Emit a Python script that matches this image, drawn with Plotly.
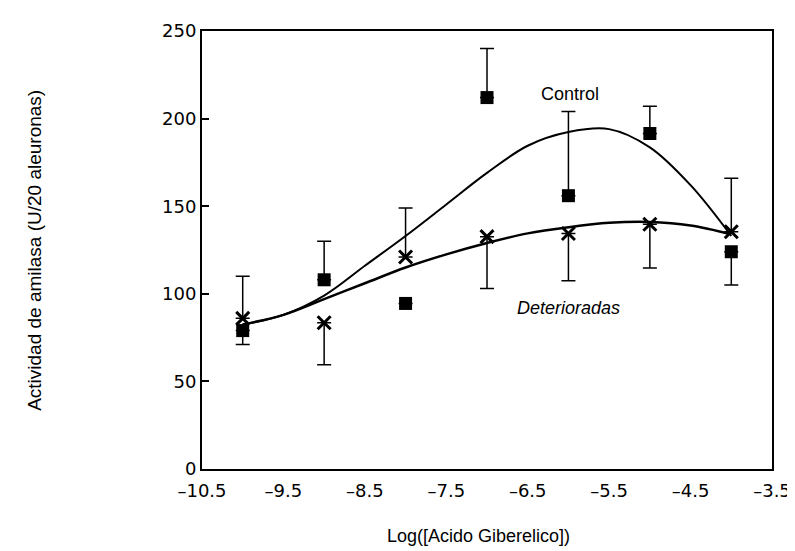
import plotly.graph_objects as go

# Measured points
x_vals = [-10, -9, -8, -7, -6, -5, -4]
control = [79, 108, 94.5, 212, 156, 191.5, 124]
control_err_plus = [0, 22, 0, 28, 48, 15.5, 0]
control_err_minus = [8, 0, 0, 0, 0, 0, 19]
deter = [86, 83.5, 121, 132.6, 134.4, 139.7, 135.4]
deter_err_plus = [24, 0, 28, 0, 0, 0, 30.5]
deter_err_minus = [0, 24, 0, 29.6, 27, 25, 0]

# Fitted curves
curve_x = [-10, -9.5, -9, -8.5, -8, -7.5, -7, -6.5, -6, -5.5, -5, -4.5, -4]
control_curve = [82.5, 88, 99, 116, 133, 151, 169, 184.5, 192.3, 194, 183.6, 162, 133]
deter_curve = [82.5, 88, 97, 106, 115, 122.5, 129, 134.5, 138, 140.5, 141, 139, 134]

x_ticks = [-10.5, -9.5, -8.5, -7.5, -6.5, -5.5, -4.5, -3.5]
y_ticks = [0, 50, 100, 150, 200, 250]

FONT = "Liberation Sans"
TICKFONT = "DejaVu Sans"

fig = go.Figure()

fig.add_trace(go.Scatter(x=curve_x, y=control_curve, mode="lines",
                         line=dict(color="black", width=2, shape="spline", smoothing=1.0),
                         showlegend=False, hoverinfo="skip"))
fig.add_trace(go.Scatter(x=curve_x, y=deter_curve, mode="lines",
                         line=dict(color="black", width=2.5, shape="spline", smoothing=1.0),
                         showlegend=False, hoverinfo="skip"))

fig.add_trace(go.Scatter(
    x=x_vals, y=control, mode="markers", name="Control",
    marker=dict(symbol="square", size=13, color="black"),
    error_y=dict(type="data", symmetric=False, array=control_err_plus,
                 arrayminus=control_err_minus, color="black", thickness=1.5, width=7),
    showlegend=False))
fig.add_trace(go.Scatter(
    x=x_vals, y=deter, mode="markers", name="Deterioradas",
    marker=dict(symbol="x-thin", size=13, color="black", line=dict(color="black", width=3)),
    error_y=dict(type="data", symmetric=False, array=deter_err_plus,
                 arrayminus=deter_err_minus, color="black", thickness=1.5, width=7),
    showlegend=False))

fig.add_annotation(x=-5.98, y=214, text="Control", showarrow=False,
                   font=dict(family=FONT, size=18, color="black"))
fig.add_annotation(x=-6.0, y=92, text="<i>Deterioradas</i>", showarrow=False,
                   font=dict(family=FONT, size=18, color="black"))

fig.add_annotation(xref="paper", yref="paper", x=0.485, y=-0.152,
                   text="Log([Acido Giberelico])", showarrow=False,
                   xanchor="center", yanchor="middle",
                   font=dict(family=FONT, size=18, color="black"))
fig.add_annotation(xref="paper", yref="paper", x=-0.295, y=0.5,
                   text="Actividad de amilasa (U/20 aleuronas)", showarrow=False,
                   textangle=-90, xanchor="center", yanchor="middle",
                   font=dict(family=FONT, size=19, color="black"))

fig.update_layout(
    width=795, height=551,
    margin=dict(l=194, r=22, t=17, b=90),
    paper_bgcolor="white", plot_bgcolor="white",
    font=dict(family=FONT, color="black"),
)
fig.update_xaxes(range=[-10.5, -3.5], tickvals=x_ticks,
                 ticktext=["\u2013" + str(abs(v)) for v in x_ticks],
                 showgrid=False, zeroline=False,
                 showline=True, linecolor="black", linewidth=2, mirror=True,
                 ticks="", ticklabelstandoff=4,
                 tickfont=dict(family=TICKFONT, size=18, color="black"))
fig.update_yaxes(range=[0, 250], tickvals=y_ticks,
                 showgrid=False, zeroline=False,
                 showline=True, linecolor="black", linewidth=2, mirror=True,
                 ticks="inside", ticklen=7, tickwidth=1.5, tickcolor="black",
                 tickfont=dict(family=TICKFONT, size=18, color="black"))

fig.write_html("out.html")
